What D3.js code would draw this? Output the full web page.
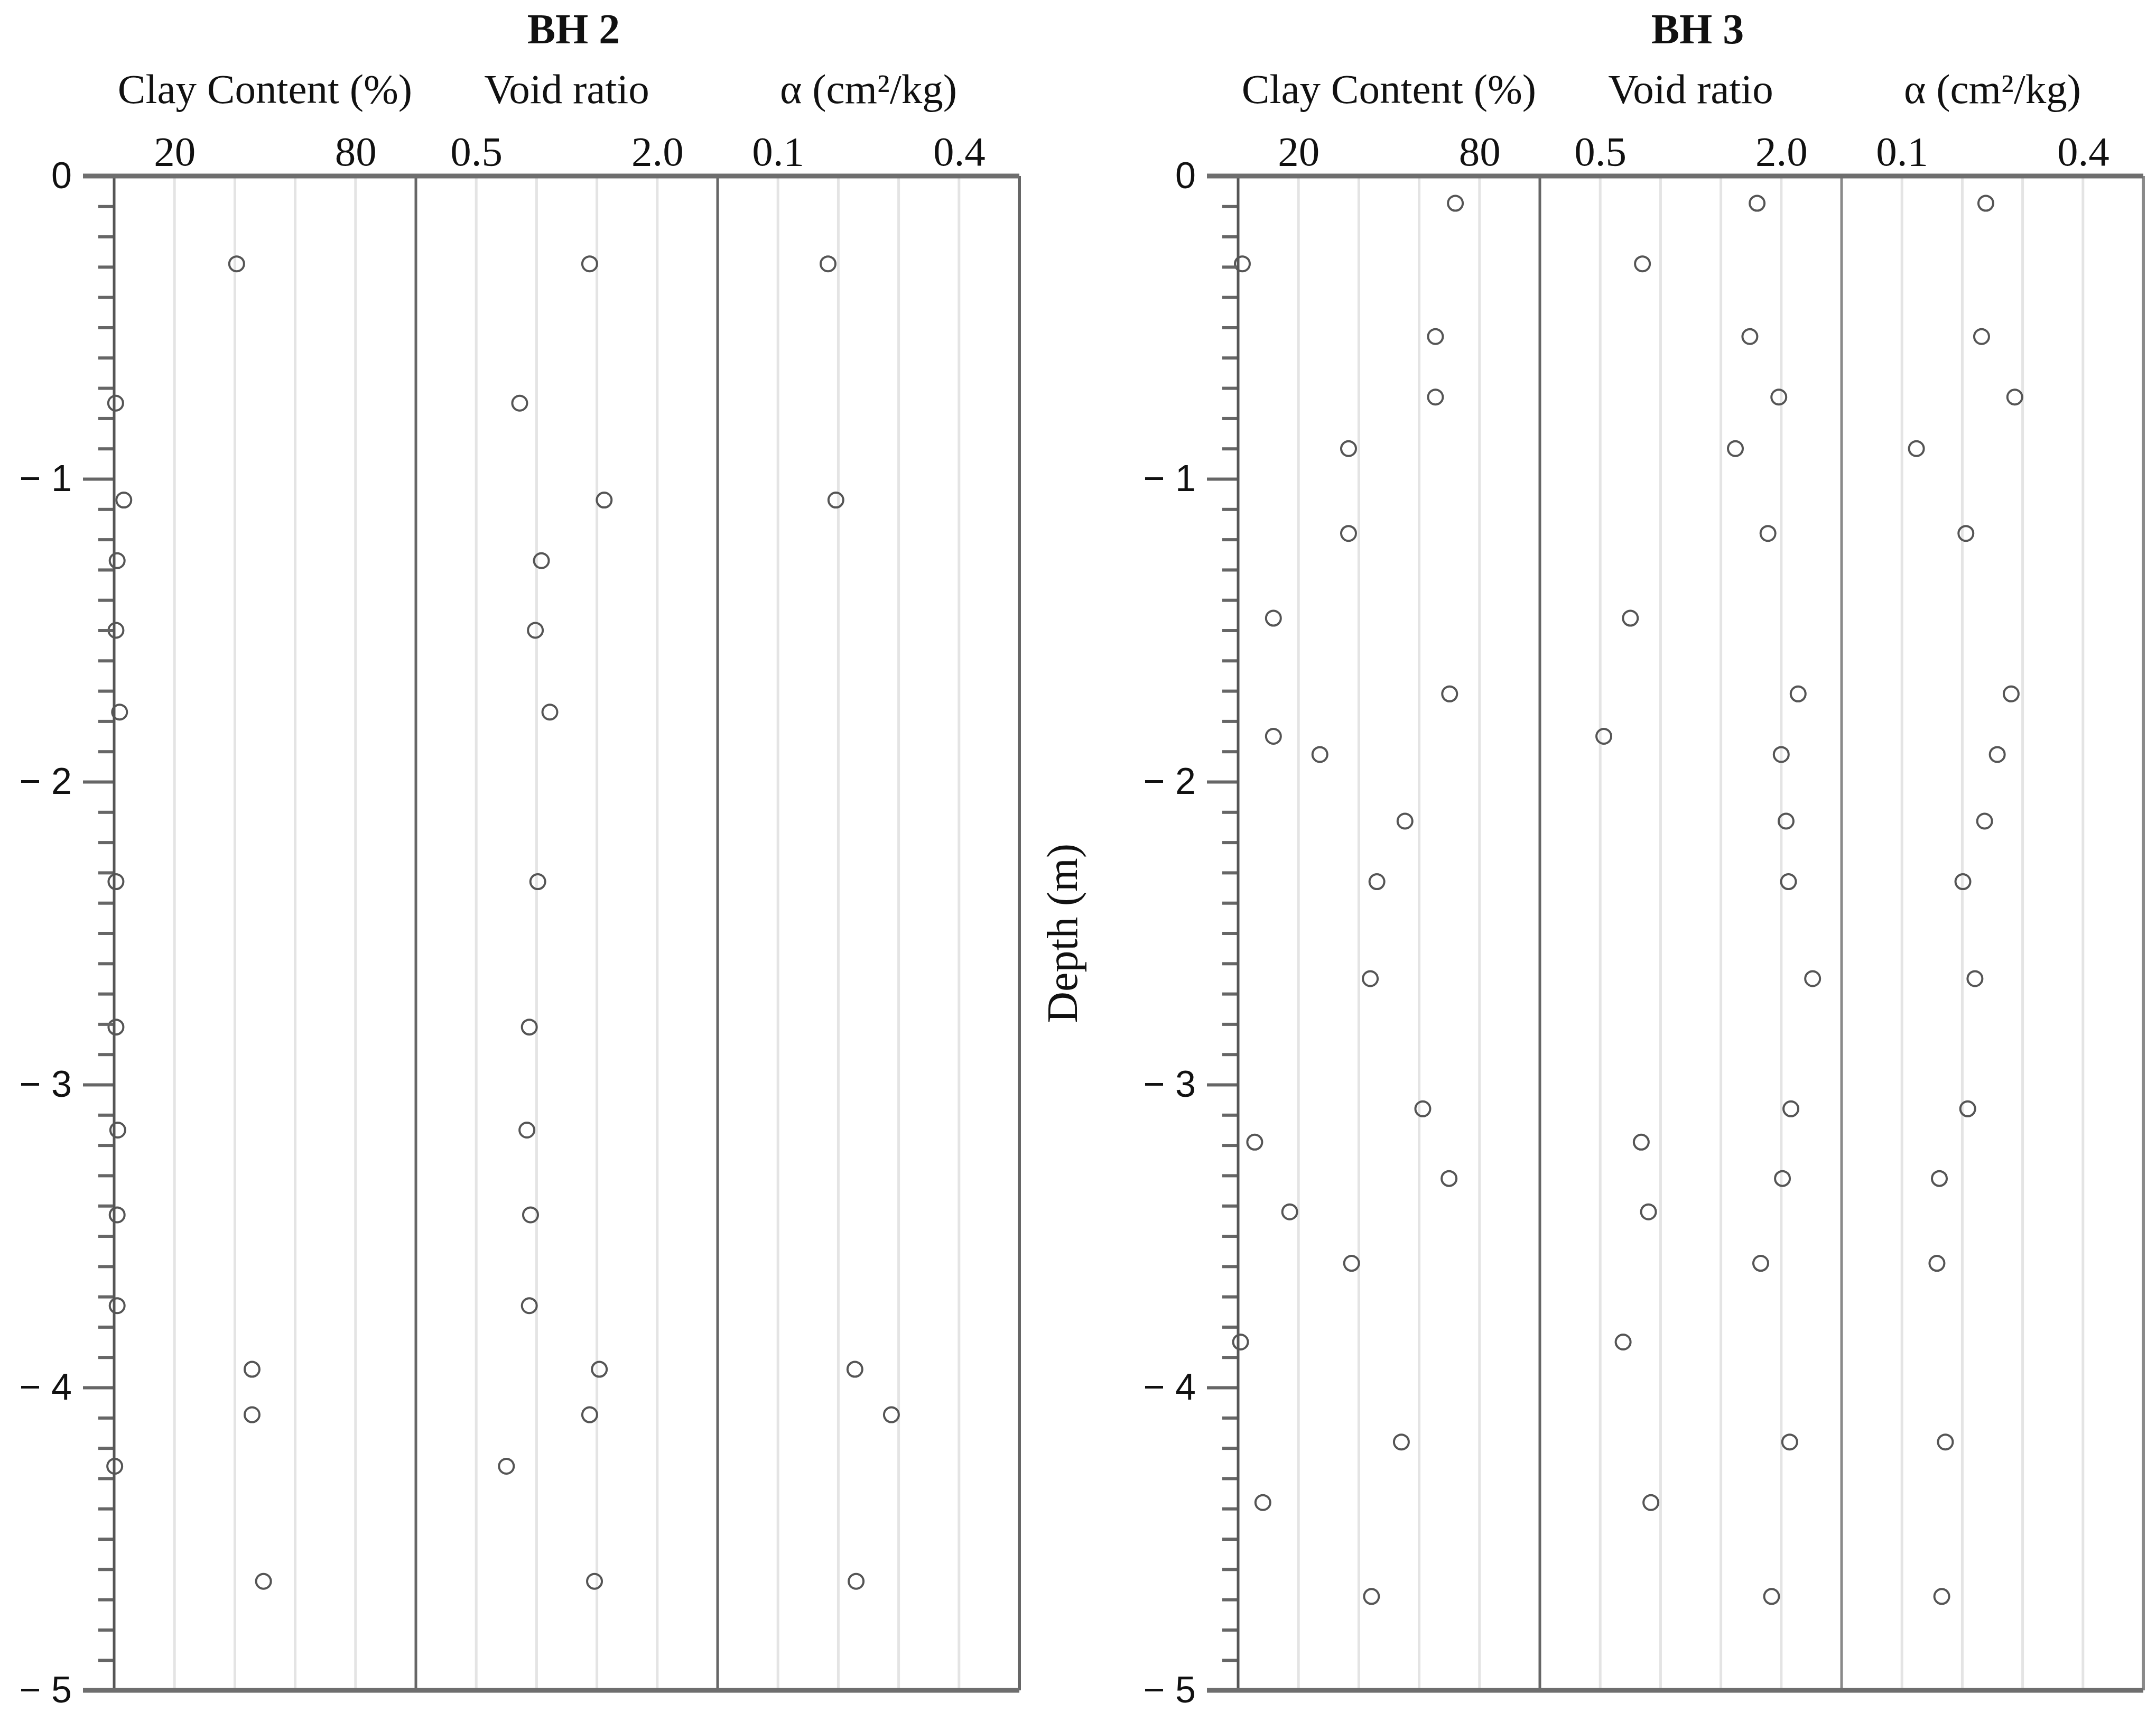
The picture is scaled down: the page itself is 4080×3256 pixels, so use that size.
<!DOCTYPE html>
<html>
<head>
<meta charset="utf-8">
<script src="https://cdn.jsdelivr.net/npm/d3@7"></script>
<style>
  body { margin: 0; background: #fff; }
  .serif { font-family: "Liberation Serif", "Times New Roman", serif; fill: #111; }
  .sans { font-family: "Liberation Sans", Arial, sans-serif; fill: #111; }
</style>
</head>
<body>
<div id="chart"></div>
<script>
// colonnes et axes
const colonnes = ["Clay Content (%)", "Void ratio", "α (cm²/kg)"];
const domainesX = [[0, 100], [0, 2.5], [0, 0.5]];
const ticksClay = [20, 80];
const ticksVoid = [0.5, 2.0];
const ticksAlpha = [0.1, 0.4];
const ticksProf = [0, -1, -2, -3, -4, -5];

// BH 2
const bh2Prof  = [-0.29, -0.75, -1.07, -1.27, -1.50, -1.77, -2.33, -2.81, -3.15, -3.43, -3.73, -3.94, -4.09, -4.26, -4.64];
const bh2Clay  = [40.6, 0.5, 3.2, 1.0, 0.6, 1.8, 0.6, 0.6, 1.2, 1.0, 1.0, 45.7, 45.7, 0.2, 49.5];
const bh2Void  = [1.44, 0.86, 1.56, 1.04, 0.99, 1.11, 1.01, 0.94, 0.92, 0.95, 0.94, 1.52, 1.44, 0.75, 1.48];
const bh2Alpha = [0.183, null, 0.196, null, null, null, null, null, null, null, null, 0.2275, 0.288, null, 0.2295];

// BH 3
const bh3Prof  = [-0.09, -0.29, -0.53, -0.73, -0.90, -1.18, -1.46, -1.71, -1.85, -1.91, -2.13, -2.33, -2.65, -3.08, -3.19, -3.31, -3.42, -3.59, -3.85, -4.18, -4.38, -4.69];
const bh3Clay  = [72.0, 1.4, 65.4, 65.4, 36.6, 36.6, 11.7, 70.1, 11.7, 27.1, 55.3, 46.0, 43.8, 61.2, 5.5, 69.9, 17.1, 37.6, 0.8, 54.1, 8.2, 44.2];
const bh3Void  = [1.80, 0.85, 1.74, 1.98, 1.62, 1.89, 0.75, 2.14, 0.53, 2.00, 2.04, 2.06, 2.26, 2.08, 0.84, 2.01, 0.90, 1.83, 0.69, 2.07, 0.92, 1.92];
const bh3Alpha = [0.239, null, 0.232, 0.287, 0.124, 0.206, null, 0.281, null, 0.258, 0.237, 0.201, 0.221, 0.209, null, 0.162, null, 0.158, null, 0.172, null, 0.166];

const width = 4080;
const height = 3256;
const largeurCol = 571;
const yHaut = 333;
const yBas = 3198;

const svg = d3.select("#chart").append("svg")
    .attr("width", width)
    .attr("height", height);

const y = d3.scaleLinear().domain([0, -5]).range([yHaut, yBas]);

function dessinerForage(x0, titre, prof, valeurs, clairs) {
    const g = svg.append("g");
    const xRight = x0 + 3 * largeurCol;
    const listeTicks = [ticksClay, ticksVoid, ticksAlpha];

    // titre
    g.append("text")
        .attr("class", "serif")
        .attr("x", (x0 + xRight) / 2 + 13)
        .attr("y", 82)
        .attr("text-anchor", "middle")
        .style("font-size", "80px")
        .style("font-weight", "bold")
        .text(titre);

    colonnes.forEach((nom, i) => {
        const left = x0 + i * largeurCol;
        const x = d3.scaleLinear().domain(domainesX[i]).range([left, left + largeurCol]);
        const pas = domainesX[i][1] / 5;

        // grille claire
        g.append("g").selectAll("line")
            .data(d3.range(1, 5).map(k => k * pas))
            .enter().append("line")
            .attr("x1", d => x(d)).attr("x2", d => x(d))
            .attr("y1", yHaut).attr("y2", yBas)
            .attr("stroke", "#e4e4e4")
            .attr("stroke-width", 5);

        // séparateur droit
        g.append("line")
            .attr("x1", x(domainesX[i][1])).attr("x2", x(domainesX[i][1]))
            .attr("y1", yHaut).attr("y2", yBas)
            .attr("stroke", clairs && i > 0 ? "#8a8a8a" : "#666")
            .attr("stroke-width", i === 2 ? 6 : 5);

        // étiquette de colonne
        g.append("text")
            .attr("class", "serif")
            .attr("x", left + largeurCol / 2)
            .attr("y", 195)
            .attr("text-anchor", "middle")
            .style("font-size", "79px")
            .text(nom);

        // ticks du haut
        const axeHaut = d3.axisTop(x)
            .tickValues(listeTicks[i])
            .tickSize(0)
            .tickPadding(20)
            .tickFormat(i === 0 ? d3.format("d") : d3.format(".1f"));
        const ga = g.append("g")
            .attr("transform", `translate(0,${yHaut})`)
            .call(axeHaut);
        ga.select(".domain").remove();
        ga.selectAll("text")
            .attr("class", "serif")
            .style("font-size", "79px");

        // points
        const pts = prof.map((p, j) => ({ p: p, v: valeurs[i][j] })).filter(d => d.v !== null);
        g.append("g").selectAll("circle")
            .data(pts)
            .enter().append("circle")
            .attr("cx", d => x(d.v))
            .attr("cy", d => y(d.p))
            .attr("r", 14)
            .attr("fill", "none")
            .attr("stroke", "#555")
            .attr("stroke-width", 4);
    });

    // axe de profondeur : petits ticks
    const axeMineur = d3.axisLeft(y)
        .tickValues(d3.range(0, 51).map(k => -k / 10).filter(v => Math.abs(v * 10) % 10 !== 0))
        .tickSize(30)
        .tickFormat("");
    const gm = g.append("g").attr("transform", `translate(${x0},0)`).call(axeMineur);
    gm.select(".domain").remove();
    gm.selectAll("line").attr("stroke", "#666").attr("stroke-width", 6);

    // grands ticks et libellés
    const axeMajeur = d3.axisLeft(y)
        .tickValues(ticksProf)
        .tickSize(59)
        .tickPadding(21)
        .tickFormat(d => d === 0 ? "0" : "\u2212 " + Math.abs(d));
    const gM = g.append("g").attr("transform", `translate(${x0},0)`).call(axeMajeur);
    gM.select(".domain").remove();
    gM.selectAll("line").attr("stroke", "#666").attr("stroke-width", 6);
    gM.selectAll("text")
        .attr("class", "sans")
        .style("font-size", "70px");

    // ligne verticale de l'axe
    g.append("line")
        .attr("x1", x0).attr("x2", x0)
        .attr("y1", yHaut).attr("y2", yBas)
        .attr("stroke", "#555")
        .attr("stroke-width", 5);

    // bords haut et bas
    [yHaut, yBas].forEach(yy => {
        g.append("line")
            .attr("x1", x0 - 59).attr("x2", xRight)
            .attr("y1", yy).attr("y2", yy)
            .attr("stroke", "#6e6e6e")
            .attr("stroke-width", 9);
    });
}

dessinerForage(216, "BH 2", bh2Prof, [bh2Clay, bh2Void, bh2Alpha], false);
dessinerForage(2343, "BH 3", bh3Prof, [bh3Clay, bh3Void, bh3Alpha], true);

// libellé de l'axe des profondeurs
svg.append("text")
    .attr("class", "serif")
    .attr("transform", `translate(2038,${(yHaut + yBas) / 2}) rotate(-90)`)
    .attr("text-anchor", "middle")
    .style("font-size", "82px")
    .text("Depth (m)");
</script>
</body>
</html>
